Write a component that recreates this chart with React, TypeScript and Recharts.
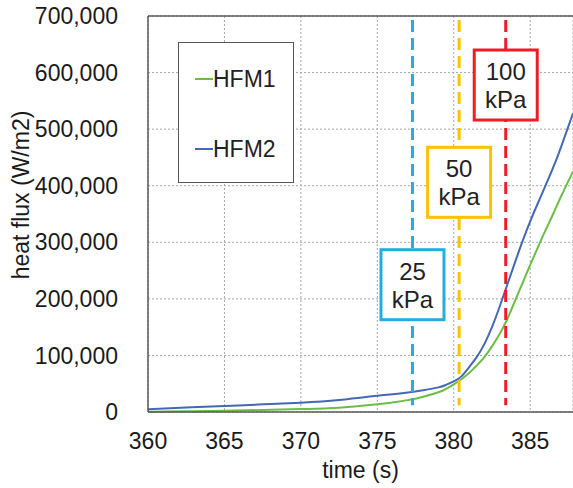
import {
  LineChart,
  Line,
  XAxis,
  YAxis,
  CartesianGrid,
  ReferenceLine,
  ReferenceDot,
  Legend,
} from 'recharts'

const times = [360, 362.5, 365, 367.5, 370, 372.5, 375, 376, 377, 378, 379, 379.5, 380, 380.5, 381, 381.5, 382, 382.5, 383, 383.5, 384, 384.5, 385, 385.5, 386, 386.5, 387, 387.8]
const hfm1 = [500, 1300, 2300, 3600, 5300, 7500, 13500, 17000, 21000, 27000, 35000, 41000, 49000, 58000, 69000, 82000, 97000, 116000, 138000, 164000, 196000, 228000, 260000, 291000, 321000, 350000, 380000, 425000]
const hfm2 = [5000, 8000, 10600, 13500, 16400, 21000, 28800, 31500, 34500, 38500, 43500, 48000, 54000, 63000, 79000, 97000, 120000, 150000, 186000, 225000, 264000, 302000, 337000, 369000, 400000, 432000, 467000, 528000]

const xTicks = [360, 365, 370, 375, 380, 385]
const yTicks = [0, 100000, 200000, 300000, 400000, 500000, 600000, 700000]

// pressure markers: time of the dashed line, label, where the label box sits
const markerTimes = [377.3, 380.35, 383.4]
const markerLabels = ['25', '50', '100']
const markerBoxY = [225000, 406000, 578000]
const markerColors = ['#29abe2', '#ffc000', '#ee1c25']

const data = times.map((t, i) => ({ t, hfm1: hfm1[i], hfm2: hfm2[i] }))

const FONT = '"Liberation Sans", Arial, sans-serif'
const AXIS = '#595959'

function PressureBox(props: any, label: string, color: string) {
  const { cx, cy } = props
  const w = 63
  const h = 70
  return (
    <g>
      <rect x={cx - w / 2} y={cy - h / 2} width={w} height={h} fill="#fff" stroke={color} strokeWidth={3} />
      <text x={cx} y={cy - 5} textAnchor="middle" fontSize={24} fill="#222" fontFamily={FONT}>{label}</text>
      <text x={cx} y={cy + 23} textAnchor="middle" fontSize={24} fill="#222" fontFamily={FONT}>kPa</text>
    </g>
  )
}

function LegendBox() {
  const items = [
    { name: 'HFM1', color: '#6cbd45' },
    { name: 'HFM2', color: '#4468b8' },
  ]
  return (
    <div style={{ width: 114, height: 139, border: '1.5px solid #555', background: '#fff', position: 'relative', fontFamily: FONT }}>
      {items.map((it, i) => (
        <div key={it.name} style={{ position: 'absolute', left: 16, top: 22 + i * 70, display: 'flex', alignItems: 'center', height: 28 }}>
          <span style={{ display: 'inline-block', width: 18, height: 2, background: it.color }} />
          <span style={{ fontSize: 23, color: '#222', lineHeight: '28px' }}>{it.name}</span>
        </div>
      ))}
    </div>
  )
}

export default function App() {
  return (
    <div style={{ position: 'absolute', left: 0, top: 0, width: 573, height: 488, background: '#fff' }}>
      <LineChart
        width={573}
        height={488}
        data={data}
        margin={{ top: 16, right: 0, left: 0, bottom: 0 }}
        style={{ fontFamily: FONT }}
      >
        <CartesianGrid stroke="#a6a6a6" strokeDasharray="2 2" />
        <XAxis
          dataKey="t"
          type="number"
          domain={[360, 387.8]}
          allowDataOverflow
          ticks={xTicks}
          tickSize={0}
          tickMargin={21}
          tick={{ fill: '#1a1a1a', fontSize: 23 }}
          axisLine={{ stroke: AXIS, strokeWidth: 1.5 }}
          tickLine={false}
          height={76}
          label={{ value: 'time (s)', position: 'insideBottom', offset: 10, fill: '#1a1a1a', fontSize: 23 }}
        />
        <YAxis
          type="number"
          domain={[0, 700000]}
          ticks={yTicks}
          width={148}
          tickSize={0}
          tickMargin={30}
          tick={{ fill: '#1a1a1a', fontSize: 23 }}
          tickFormatter={(v: number) => v.toLocaleString('en-US')}
          axisLine={{ stroke: AXIS, strokeWidth: 1.5 }}
          tickLine={false}
          label={() => (
            <text
              x={29}
              y={195}
              transform="rotate(-90, 29, 195)"
              textAnchor="middle"
              fontSize={23}
              fill="#1a1a1a"
              fontFamily={FONT}
            >
              heat flux (W/m2)
            </text>
          )}
        />
        <ReferenceLine y={700000} stroke={AXIS} strokeWidth={1.5} />
        <Legend
          layout="horizontal"
          verticalAlign="middle"
          align="center"
          content={() => <LegendBox />}
          wrapperStyle={{ position: 'absolute', left: 178, top: 42, width: 117, height: 142 }}
        />
        <Line type="natural" dataKey="hfm1" name="HFM1" stroke="#6cbd45" strokeWidth={2} dot={false} isAnimationActive={false} />
        <Line type="natural" dataKey="hfm2" name="HFM2" stroke="#4468b8" strokeWidth={2} dot={false} isAnimationActive={false} />
        {markerTimes.map((t, i) => (
          <ReferenceLine
            key={'l' + i}
            segment={[{ x: t, y: 693000 }, { x: t, y: 12000 }]}
            stroke={markerColors[i]}
            strokeWidth={3}
            strokeDasharray="12 6"
          />
        ))}
        {markerTimes.map((t, i) => (
          <ReferenceDot
            key={'d' + i}
            x={t}
            y={markerBoxY[i]}
            r={1}
            shape={(p: any) => PressureBox(p, markerLabels[i], markerColors[i])}
          />
        ))}
      </LineChart>
    </div>
  )
}
